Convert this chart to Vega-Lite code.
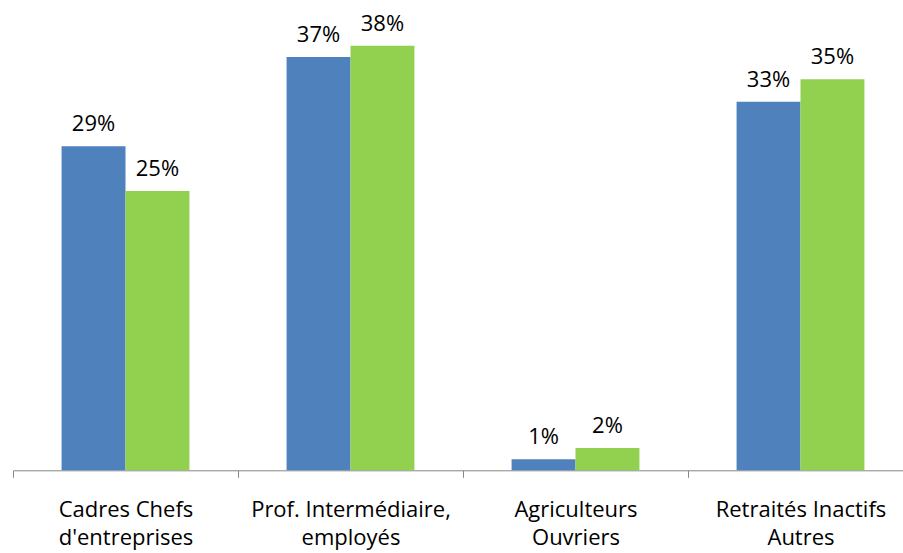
{
  "$schema": "https://vega.github.io/schema/vega-lite/v6.json",
  "width": 890,
  "height": 446.8,
  "autosize": {"type": "none"},
  "padding": {"left": 13, "top": 23.5, "right": 0, "bottom": 82.7},
  "background": "white",
  "config": {"view": {"stroke": null}},
  "data": {
    "values": [
      {"cat": "Cadres Chefs|d'entreprises", "serie": "A", "value": 0.29},
      {"cat": "Cadres Chefs|d'entreprises", "serie": "B", "value": 0.25},
      {"cat": "Prof. Intermédiaire,|employés", "serie": "A", "value": 0.37},
      {"cat": "Prof. Intermédiaire,|employés", "serie": "B", "value": 0.38},
      {"cat": "Agriculteurs|Ouvriers", "serie": "A", "value": 0.01},
      {"cat": "Agriculteurs|Ouvriers", "serie": "B", "value": 0.02},
      {"cat": "Retraités Inactifs|Autres", "serie": "A", "value": 0.33},
      {"cat": "Retraités Inactifs|Autres", "serie": "B", "value": 0.35}
    ]
  },
  "encoding": {
    "x": {
      "field": "cat", "type": "nominal", "sort": null,
      "scale": {"paddingInner": 0, "paddingOuter": 0, "range": [0, 900]},
      "axis": {
        "title": null, "labelAngle": 0, "tickBand": "extent",
        "domainColor": "#868686", "tickColor": "#868686", "tickSize": 7,
        "domainWidth": 1, "tickWidth": 1,
        "labelFont": "Open Sans", "labelFontSize": 22, "labelColor": "#000000",
        "labelPadding": 22, "labelLineHeight": 28, "labelOverlap": false, "labelLimit": 0,
        "labelExpr": "split(datum.label, '|')"
      }
    },
    "xOffset": {"field": "serie", "type": "nominal", "scale": {"paddingInner": 0, "paddingOuter": 0.76}},
    "y": {"field": "value", "type": "quantitative", "scale": {"domain": [0, 0.4], "nice": false, "zero": true}, "axis": null}
  },
  "layer": [
    {
      "mark": {"type": "bar"},
      "encoding": {
        "color": {"field": "serie", "type": "nominal", "scale": {"domain": ["A", "B"], "range": ["#4F81BD", "#92D050"]}, "legend": null}
      }
    },
    {
      "mark": {"type": "text", "baseline": "alphabetic", "dy": -15, "font": "Open Sans", "fontSize": 22, "color": "#000000"},
      "encoding": {
        "text": {"field": "value", "type": "quantitative", "format": ".0%"}
      }
    }
  ]
}
